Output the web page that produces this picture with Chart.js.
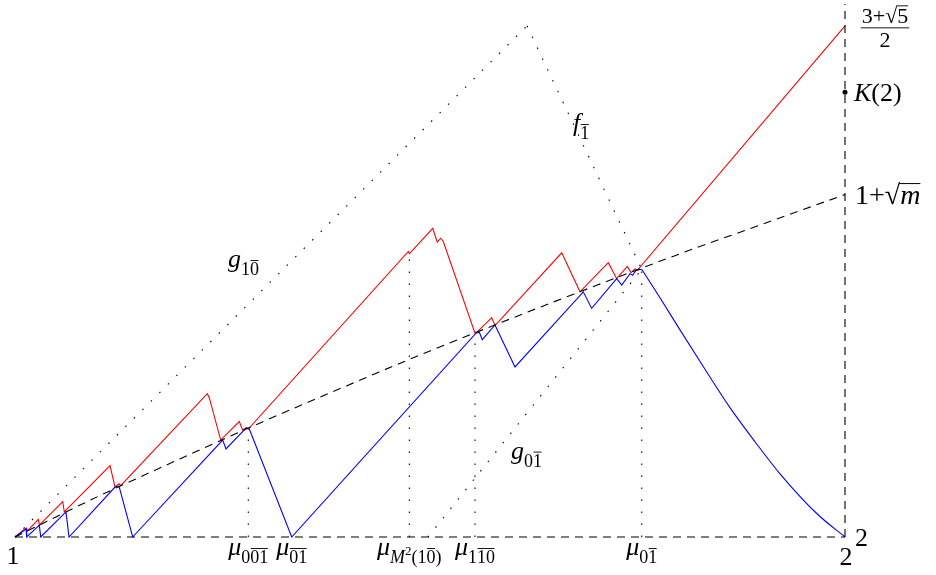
<!DOCTYPE html>
<html lang="en">
<head>
  <meta charset="UTF-8">
  <title>Red and blue sawtooth bounds</title>
  <script src="https://cdn.jsdelivr.net/npm/chart.js"></script>
  <style>
    body { margin: 0; background: #ffffff; }
    canvas { display: block; }
  </style>
</head>
<body>
  <canvas id="chart" width="936" height="575"></canvas>

  <script>
    // upper (red) sawtooth
    const redX = [1.000, 1.0133, 1.0141, 1.0281, 1.0293, 1.0575, 1.0594, 1.1145, 1.1205, 1.1253, 1.1273,
      1.2317, 1.2341, 1.2478, 1.2702, 1.2743, 1.2792, 1.2811, 1.4739, 1.4751, 1.5033, 1.5088, 1.5129,
      1.5160, 1.5542, 1.5582, 1.5743, 1.5783, 1.6587, 1.6807, 1.7148, 1.7249, 1.7377, 1.7422, 1.7473,
      1.7498, 2.000];
    const redY = [2.000, 2.0108, 2.0064, 2.0212, 2.0144, 2.0428, 2.0304, 2.0864, 2.0604, 2.0644, 2.0620,
      2.1732, 2.1684, 2.1172, 2.1396, 2.1292, 2.1324, 2.1305, 2.3453, 2.3424, 2.3732, 2.3564, 2.3612,
      2.3573, 2.2464, 2.2492, 2.2652, 2.2556, 2.3436, 2.2964, 2.3316, 2.3124, 2.3272, 2.3196, 2.3244,
      2.3224, 2.618];

    // lower (blue) sawtooth, then its smooth tail down to (2, 2)
    const blueX = [1.000, 1.0133, 1.0141, 1.0293, 1.0310, 1.0614, 1.0651, 1.1205, 1.1253, 1.1418,
      1.2502, 1.2542, 1.2783, 1.2823, 1.3334, 1.5554, 1.5594, 1.5630, 1.5783, 1.6024, 1.6847, 1.6948,
      1.7249, 1.7310, 1.7410, 1.7442, 1.7482, 1.7551];
    const blueY = [2.000, 2.0096, 2.000, 2.0144, 2.000, 2.0304, 2.000, 2.0604, 2.0616, 2.000,
      2.1172, 2.1064, 2.1316, 2.1305, 2.000, 2.2464, 2.2476, 2.2385, 2.2564, 2.2056, 2.2964, 2.2764,
      2.3124, 2.3045, 2.3184, 2.3165, 2.3225, 2.3237];
    const tailX = [1.7551, 1.7771, 1.8012, 1.8313, 1.8614, 1.8916, 1.9217, 1.9659, 2.000];
    const tailY = [2.3237, 2.2892, 2.2504, 2.2028, 2.1564, 2.1152, 2.0764, 2.0284, 2.000];

    // dashed curve 1+sqrt(m)
    const rootX = [1.0, 1.1, 1.2, 1.3, 1.4, 1.5, 1.6, 1.7, 1.8, 1.9, 2.0];
    const rootY = [2.000, 2.049, 2.095, 2.140, 2.183, 2.225, 2.265, 2.304, 2.342, 2.378, 2.414];

    // dotted lines g_10, f_1, g_01
    const gTopX = [1.000, 1.6169];
    const gTopY = [2.000, 2.618];
    const fX = [1.6169, 1.7551];
    const fY = [2.618, 2.3237];
    const g01X = [1.4976, 1.7551];
    const g01Y = [2.000, 2.3237];

    // vertical dotted markers (x, top)
    const muX = [1.2811, 1.4751, 1.5542, 1.7551];
    const muTop = [2.1305, 2.3424, 2.2464, 2.3237];

    const yTop = 2.6444;
    const goldenSq = 2.618;
    const kappa2 = 2.5376;
    const rootEnd = 2.414;

    const pts = (xs, ys) => xs.map((x, i) => ({ x: x, y: ys[i] }));
    const DOT = [1.5, 10.5];
    const DASH = [8, 6];

    const datasets = [
      { data: [{ x: 1, y: 2 }, { x: 2, y: 2 }], borderColor: '#000', borderWidth: 1.1, borderDash: DASH },
      { data: [{ x: 2, y: 2 }, { x: 2, y: yTop }], borderColor: '#000', borderWidth: 1.1, borderDash: DASH },
      { data: pts(rootX, rootY), borderColor: '#000', borderWidth: 1.1, borderDash: DASH, cubicInterpolationMode: 'monotone' },
      { data: pts(gTopX, gTopY), borderColor: '#000', borderWidth: 1.1, borderDash: DOT },
      { data: pts(fX, fY), borderColor: '#000', borderWidth: 1.1, borderDash: DOT },
      { data: pts(g01X, g01Y), borderColor: '#000', borderWidth: 1.1, borderDash: DOT }
    ];
    muX.forEach((x, i) => {
      datasets.push({ data: [{ x: x, y: 2 }, { x: x, y: muTop[i] }], borderColor: '#000', borderWidth: 1.1, borderDash: DOT });
    });
    datasets.push({ data: pts(blueX, blueY), borderColor: '#0000ff', borderWidth: 1.1 });
    datasets.push({ data: pts(tailX, tailY), borderColor: '#0000ff', borderWidth: 1.1, cubicInterpolationMode: 'monotone' });
    datasets.push({ data: pts(redX, redY), borderColor: '#ff0000', borderWidth: 1.1 });
    datasets.push({ data: [{ x: 2, y: kappa2 }], showLine: false, pointRadius: 2.5, pointBackgroundColor: '#000', pointBorderWidth: 0 });

    // math-ish text drawing
    const SERIF = '"Liberation Serif", "DejaVu Serif", serif';
    function fontFor(k) {
      if (k === 'i') return 'italic 26px ' + SERIF;
      if (k === 'r') return '26px ' + SERIF;
      if (k === 'si') return 'italic 18px ' + SERIF;
      if (k === 'sup') return '13px ' + SERIF;
      if (k === 'n') return '22px ' + SERIF;
      return '18px ' + SERIF;
    }
    function widthOf(ctx, segs) {
      let w = 0;
      segs.forEach(([t, k]) => { ctx.font = fontFor(k); w += ctx.measureText(t).width; });
      return w;
    }
    function drawMath(ctx, segs, x, y, align) {
      let cx = align === 'center' ? x - widthOf(ctx, segs) / 2 : x;
      segs.forEach(([t, k]) => {
        ctx.font = fontFor(k);
        const w = ctx.measureText(t).width;
        let dy = 0;
        if (k === 's' || k === 'sb' || k === 'si') dy = 8;
        ctx.fillText(t, cx, y + dy);
        if (k === 'sb') {
          ctx.beginPath();
          ctx.lineWidth = 0.9;
          ctx.moveTo(cx + 0.5, y + dy - 14.5);
          ctx.lineTo(cx + w - 0.5, y + dy - 14.5);
          ctx.stroke();
        }
        cx += w;
      });
    }

    const labelPlugin = {
      id: 'labels',
      afterDatasetsDraw(chart) {
        const ctx = chart.ctx;
        const xs = chart.scales.x, ys = chart.scales.y;
        const X = v => xs.getPixelForValue(v), Y = v => ys.getPixelForValue(v);
        ctx.save();
        ctx.fillStyle = '#000';
        ctx.strokeStyle = '#000';
        ctx.textBaseline = 'alphabetic';

        const base = Y(2);
        drawMath(ctx, [['1', 'r']], X(1) - 2, base + 27, 'center');
        drawMath(ctx, [['2', 'r']], X(2) + 1, base + 28, 'center');
        drawMath(ctx, [['2', 'r']], X(2) + 10, base + 9, 'left');

        drawMath(ctx, [['μ', 'i'], ['0', 's'], ['01', 'sb']], X(muX[0]), base + 18, 'center');
        drawMath(ctx, [['μ', 'i'], ['01', 'sb']], X(blueX[14]), base + 18, 'center');
        drawMath(ctx, [['μ', 'i'], ['M', 'si'], ['2', 'sup'], ['(1', 's'], ['0', 'sb'], [')', 's']], X(muX[1]), base + 18, 'center');
        drawMath(ctx, [['μ', 'i'], ['1', 's'], ['10', 'sb']], X(muX[2]), base + 18, 'center');
        drawMath(ctx, [['μ', 'i'], ['0', 's'], ['1', 'sb']], X(muX[3]), base + 18, 'center');

        // right side values
        const fx = X(2) + 40;
        ctx.font = fontFor('n');
        const num = '3+√5';
        const nw = ctx.measureText(num).width;
        ctx.fillText(num, fx - nw / 2, Y(goldenSq) - 3);
        const fiveW = ctx.measureText('5').width;
        ctx.beginPath();
        ctx.lineWidth = 0.9;
        ctx.moveTo(fx + nw / 2 - fiveW - 0.5, Y(goldenSq) - 20);
        ctx.lineTo(fx + nw / 2, Y(goldenSq) - 20);
        ctx.moveTo(fx - nw / 2 - 1, Y(goldenSq) + 2);
        ctx.lineTo(fx + nw / 2 + 1, Y(goldenSq) + 2);
        ctx.stroke();
        const dw = ctx.measureText('2').width;
        ctx.fillText('2', fx - dw / 2, Y(goldenSq) + 21);

        drawMath(ctx, [['K', 'i'], ['(2)', 'r']], X(2) + 9, Y(kappa2) + 9, 'left');

        ctx.font = '28px ' + SERIF;
        const lead = '1+√';
        const lx = X(2) + 10, ly = Y(rootEnd) + 9;
        ctx.fillText(lead, lx, ly);
        const lw = ctx.measureText(lead).width;
        ctx.font = 'italic 28px ' + SERIF;
        const mw = ctx.measureText('m').width;
        ctx.fillText('m', lx + lw, ly);
        ctx.beginPath();
        ctx.lineWidth = 1;
        ctx.moveTo(lx + lw - 1, ly - 20);
        ctx.lineTo(lx + lw + mw, ly - 20);
        ctx.stroke();

        // curve names
        drawMath(ctx, [['g', 'i'], ['1', 's'], ['0', 'sb']], X(1.2566), Y(2.3264), 'left');
        drawMath(ctx, [['f', 'i'], ['1', 'sb']], X(1.6723), Y(2.4908), 'left');
        drawMath(ctx, [['g', 'i'], ['0', 's'], ['1', 'sb']], X(1.5976), Y(2.0948), 'left');

        ctx.restore();
      }
    };

    new Chart(document.getElementById('chart'), {
      type: 'line',
      data: { datasets: datasets.map(d => Object.assign({ pointRadius: 0, fill: false, tension: 0, clip: false }, d)) },
      options: {
        responsive: false,
        animation: false,
        devicePixelRatio: 1,
        layout: { padding: { left: 15, right: 91, top: 0, bottom: 38 } },
        plugins: { legend: { display: false }, tooltip: { enabled: false } },
        scales: {
          x: { type: 'linear', min: 1, max: 2, display: false },
          y: { type: 'linear', min: 2, max: yTop, display: false }
        }
      },
      plugins: [labelPlugin]
    });
  </script>
</body>
</html>
